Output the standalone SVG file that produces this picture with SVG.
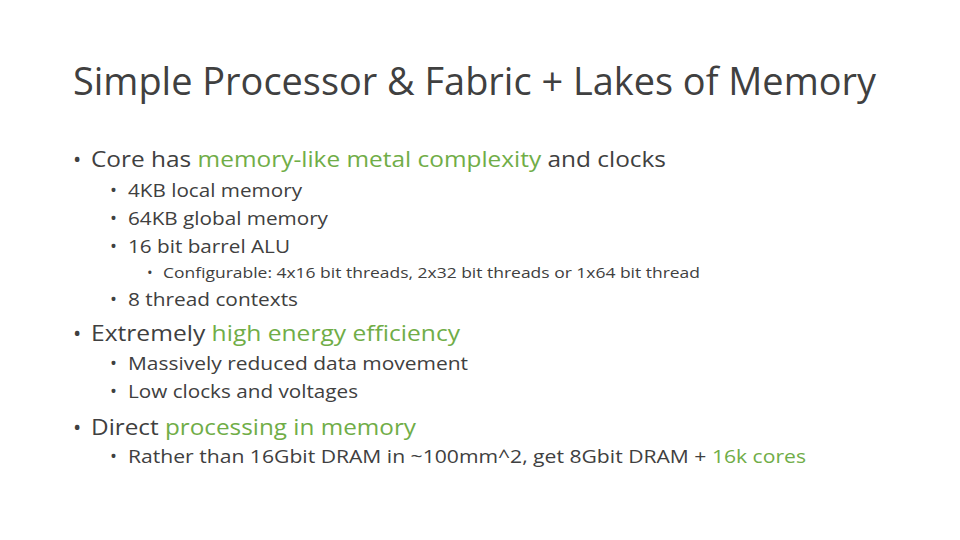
<svg xmlns="http://www.w3.org/2000/svg" width="960" height="540" viewBox="0 0 960 540">
<style>
text{font-family:"Open Sans","Liberation Sans",sans-serif;fill:#404040}
.g{fill:#70AD47}
.t{font-size:38px}
.l1{font-size:22px}
.l2{font-size:18.5px}
.l3{font-size:15px}
</style>
<rect width="960" height="540" fill="#fff"/>
<text class="t" x="73" y="95" textLength="803" lengthAdjust="spacingAndGlyphs">Simple Processor &amp; Fabric + Lakes of Memory</text>
<g class="l1">
<text x="73" y="167">•</text>
<text x="91" y="167" textLength="575" lengthAdjust="spacingAndGlyphs">Core has <tspan class="g">memory-like metal complexity</tspan> and clocks</text>
<text x="73" y="341">•</text>
<text x="91" y="341" textLength="369" lengthAdjust="spacingAndGlyphs">Extremely <tspan class="g">high energy efficiency</tspan></text>
<text x="73" y="435">•</text>
<text x="91" y="435" textLength="325" lengthAdjust="spacingAndGlyphs">Direct <tspan class="g">processing in memory</tspan></text>
</g>
<g class="l2">
<text x="110" y="197">•</text><text x="128" y="197" textLength="174" lengthAdjust="spacingAndGlyphs">4KB local memory</text>
<text x="110" y="225">•</text><text x="128" y="225" textLength="200" lengthAdjust="spacingAndGlyphs">64KB global memory</text>
<text x="110" y="253">•</text><text x="128" y="253" textLength="162" lengthAdjust="spacingAndGlyphs">16 bit barrel ALU</text>
<text x="110" y="306">•</text><text x="128" y="306" textLength="170" lengthAdjust="spacingAndGlyphs">8 thread contexts</text>
<text x="110" y="370">•</text><text x="128" y="370" textLength="340" lengthAdjust="spacingAndGlyphs">Massively reduced data movement</text>
<text x="110" y="398">•</text><text x="128" y="398" textLength="230" lengthAdjust="spacingAndGlyphs">Low clocks and voltages</text>
<text x="110" y="463">•</text><text x="128" y="463" textLength="678" lengthAdjust="spacingAndGlyphs">Rather than 16Gbit DRAM in ~100mm^2, get 8Gbit DRAM + <tspan class="g">16k cores</tspan></text>
</g>
<g class="l3">
<text x="147" y="278">•</text><text x="163" y="278" textLength="537" lengthAdjust="spacingAndGlyphs">Configurable: 4x16 bit threads, 2x32 bit threads or 1x64 bit thread</text>
</g>
</svg>
